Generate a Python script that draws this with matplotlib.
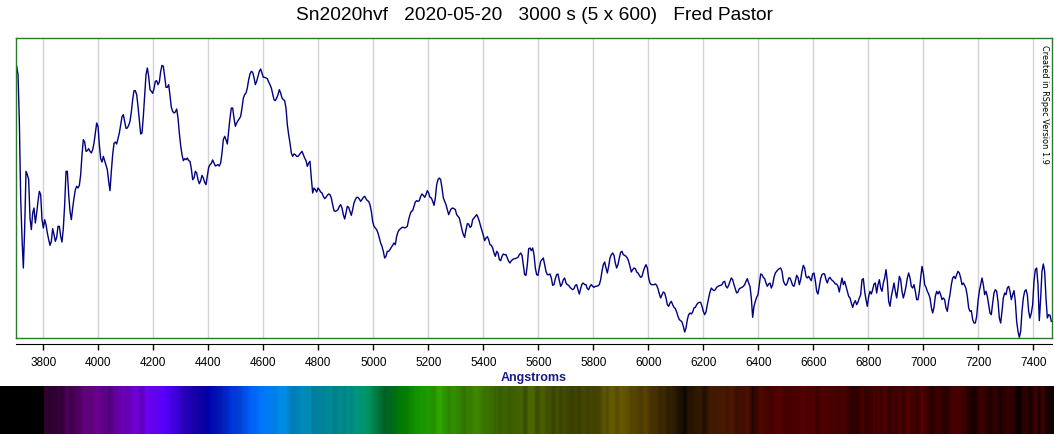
import numpy as np
import matplotlib.pyplot as plt

plt.rcParams['font.family'] = ['Liberation Sans', 'DejaVu Sans']

# Spectre Sn2020hvf : intensite relative (unites arbitraires), echantillonnage lineaire
pas = 4.848  # Angstrom par point

# Debut (Angstrom) de chaque morceau du spectre
debut_a = 3703.2
debut_b = 4459.5
debut_c = 5206.2
debut_d = 5957.7
debut_e = 6704.4

flux_a = [815, 790, 650, 420, 300, 210, 330, 500, 490, 475, 360, 325, 375, 390, 345, 375,
          410, 440, 430, 355, 330, 355, 340, 315, 295, 278, 290, 328, 310, 290, 302, 335,
          335, 305, 288, 330, 400, 500, 500, 430, 380, 355, 390, 420, 445, 455, 450, 458,
          490, 550, 595, 588, 560, 562, 568, 560, 555, 565, 585, 615, 645, 635, 580, 538,
          528, 545, 532, 518, 505, 470, 442, 500, 550, 584, 588, 582, 598, 615, 640, 664,
          670, 650, 629, 630, 638, 650, 678, 715, 742, 742, 730, 695, 655, 612, 615, 665,
          730, 790, 810, 785, 745, 740, 734, 748, 770, 772, 760, 768, 800, 818, 815, 785,
          752, 752, 760, 728, 692, 680, 675, 678, 687, 660, 615, 578, 550, 532, 538, 535,
          540, 532, 530, 508, 475, 480, 500, 495, 475, 463, 472, 488, 480, 467, 460, 485,
          512, 520, 524, 534, 525, 516, 518, 520, 516, 525, 555, 595]

flux_b = [605, 595, 582, 620, 660, 690, 690, 660, 635, 645, 652, 658, 665, 690, 720, 730,
          735, 750, 775, 792, 800, 797, 782, 760, 770, 785, 800, 807, 795, 782, 782, 780,
          778, 768, 760, 750, 732, 715, 712, 720, 730, 745, 735, 720, 715, 712, 690, 640,
          610, 585, 555, 545, 552, 550, 545, 545, 550, 555, 560, 550, 540, 532, 515, 525,
          530, 480, 435, 450, 445, 438, 450, 445, 438, 435, 425, 418, 422, 428, 432, 430,
          420, 400, 382, 380, 382, 385, 395, 400, 390, 370, 357, 375, 395, 392, 380, 368,
          385, 405, 415, 422, 422, 417, 410, 415, 422, 425, 418, 412, 410, 400, 380, 350,
          335, 330, 325, 315, 300, 285, 275, 260, 240, 245, 260, 260, 265, 272, 278, 285,
          280, 305, 318, 325, 328, 332, 332, 330, 332, 335, 355, 370, 380, 382, 395, 408,
          412, 410, 412, 425, 432, 428, 422, 430, 442, 435]

flux_c = [422, 420, 410, 398, 420, 460, 475, 480, 475, 450, 420, 410, 400, 385, 370, 380,
          388, 390, 388, 385, 370, 365, 360, 342, 325, 310, 302, 325, 343, 342, 332, 335,
          355, 360, 365, 370, 362, 350, 335, 322, 308, 292, 300, 304, 295, 280, 278, 270,
          255, 245, 260, 255, 235, 232, 245, 252, 250, 250, 240, 230, 225, 232, 235, 238,
          238, 240, 242, 250, 255, 248, 220, 190, 188, 220, 268, 270, 262, 270, 250, 210,
          190, 188, 210, 230, 235, 240, 220, 200, 190, 190, 192, 180, 158, 160, 178, 190,
          192, 172, 155, 162, 175, 180, 165, 160, 158, 152, 148, 145, 148, 158, 160, 145,
          132, 148, 162, 165, 160, 160, 148, 145, 155, 160, 155, 152, 155, 155, 157, 160,
          175, 200, 220, 228, 210, 195, 215, 240, 250, 255, 248, 225, 210, 220, 240, 257,
          260, 250, 248, 245, 240, 230, 215, 198, 205, 210, 208]

flux_d = [198, 195, 188, 182, 185, 200, 212, 220, 210, 180, 165, 160, 160, 160, 162, 158,
          148, 132, 120, 130, 138, 135, 120, 100, 95, 105, 110, 100, 92, 88, 78, 65,
          55, 52, 48, 35, 18, 30, 55, 70, 75, 72, 78, 90, 92, 100, 105, 107, 107, 95,
          80, 70, 78, 100, 120, 138, 150, 145, 142, 145, 152, 155, 157, 158, 160, 168,
          170, 155, 150, 158, 170, 180, 175, 160, 148, 135, 138, 148, 150, 152, 155, 160,
          170, 178, 165, 155, 120, 62, 95, 110, 122, 130, 162, 192, 190, 182, 178, 165,
          155, 162, 165, 150, 160, 182, 195, 200, 205, 208, 210, 200, 172, 162, 158, 165,
          180, 180, 170, 158, 155, 170, 188, 182, 160, 175, 200, 218, 210, 185, 180, 185,
          178, 172, 192, 195, 172, 140, 132, 155, 178, 190, 193, 192, 175, 165, 178, 182,
          175, 172, 168, 162, 162, 155, 138, 160]

flux_e = [180, 160, 170, 155, 140, 125, 120, 105, 92, 105, 112, 100, 108, 120, 130, 175,
          178, 140, 115, 95, 125, 140, 132, 145, 162, 165, 135, 160, 175, 150, 140, 165,
          180, 205, 170, 110, 95, 125, 145, 165, 140, 120, 150, 185, 175, 140, 120, 135,
          155, 180, 195, 180, 155, 150, 160, 140, 115, 115, 140, 180, 215, 195, 160, 152,
          140, 132, 120, 92, 75, 92, 125, 140, 132, 140, 130, 115, 120, 115, 90, 80,
          110, 130, 160, 180, 185, 178, 190, 200, 195, 180, 160, 165, 158, 148, 125, 90,
          80, 82, 55, 45, 45, 65, 110, 140, 160, 180, 160, 130, 140, 125, 100, 75,
          70, 105, 135, 145, 140, 110, 60, 45, 80, 120, 135, 130, 150, 155, 140, 115,
          130, 142, 110, 50, 20, 2, 20, 80, 120, 140, 145, 130, 80, 60, 75, 100,
          170, 205, 210, 160, 52, 120, 200, 222, 200, 120, 60, 70, 68, 50]

graduations = [3800, 4000, 4200, 4400, 4600, 4800, 5000, 5200, 5400, 5600,
               5800, 6000, 6200, 6400, 6600, 6800, 7000, 7200, 7400]

titre = "Sn2020hvf   2020-05-20   3000 s (5 x 600)   Fred Pastor"

# Assemblage du spectre
debuts = [debut_a, debut_b, debut_c, debut_d, debut_e]
morceaux = [flux_a, flux_b, flux_c, flux_d, flux_e]
lam = np.concatenate([d + pas*np.arange(len(f)) for d, f in zip(debuts, morceaux)])
flux = np.concatenate([np.array(f, dtype=float) for f in morceaux])


def couleur(l):
    """Couleur RGB approchee d'une longueur d'onde en Angstrom (algorithme de Bruton)"""
    l = l/10.0
    r = g = b = 0.0
    if 380 <= l < 440:
        r = -(l-440)/60.0
        b = 1.0
    elif 440 <= l < 490:
        g = (l-440)/50.0
        b = 1.0
    elif 490 <= l < 510:
        g = 1.0
        b = -(l-510)/20.0
    elif 510 <= l < 580:
        r = (l-510)/70.0
        g = 1.0
    elif 580 <= l < 645:
        r = 1.0
        g = -(l-645)/65.0
    elif 645 <= l <= 780:
        r = 1.0
    if 380 <= l < 420:
        f = 0.3 + 0.7*(l-380)/40.0
    elif 420 <= l < 701:
        f = 1.0
    elif 701 <= l <= 780:
        f = 0.3 + 0.7*(780-l)/80.0
    else:
        f = 0.0
    return np.array([r, g, b])*f


W, H = 1054, 435
fig = plt.figure(figsize=(W/100, H/100), dpi=100)

x0 = 3800 - 27.3/0.275
x1 = 7400 + 18.7/0.275

# Graphique principal
ax = fig.add_axes([16/W, 1-339/H, 1036/W, 300/H])
ax.plot(lam, flux, color="#000080", lw=1.0)
ax.set_xlim(x0, x1)
ax.set_ylim(0, 900)
for g in graduations:
    ax.axvline(g, color="#d3d3d3", lw=1.0, zorder=0)
ax.set_xticks([])
ax.set_yticks([])
for s in ax.spines.values():
    s.set_color("#2a7a2a")
    s.set_linewidth(1.0)
ax.text(0.9925, 0.98, "Created in RSpec Version 1.9", transform=ax.transAxes,
        rotation=-90, ha="center", va="top", fontsize=5.9, family=["DejaVu Sans"])

# Axe des longueurs d'onde
axx = fig.add_axes([16/W, 1-345/H, 1036/W, 0.0001])
axx.set_xlim(x0, x1)
axx.set_yticks([])
axx.set_xticks(graduations)
axx.tick_params(axis="x", direction="out", length=4, width=1, labelsize=8.5, pad=5)
for k in ["top", "left", "right"]:
    axx.spines[k].set_visible(False)
axx.spines["bottom"].set_color("black")
axx.patch.set_visible(False)

fig.text(534/W, 1-378.5/H, "Angstroms", ha="center", va="center", fontsize=9,
         fontweight="bold", color="#1a1a8c")
fig.text(534/W, 1-16/H, titre, ha="center", va="center", fontsize=13.8)

# Bande spectrale coloree
xs0 = 3800 - 43.3/0.275
xs1 = 3800 + (W-43.3)/0.275
ls = np.linspace(xs0, xs1, W)
lum = np.interp(ls, lam, flux)/flux.max()
img = np.array([couleur(l)*b for l, b in zip(ls, lum)])
img = np.clip(img, 0, 1)**0.8
img = img[np.newaxis, :, :]
axs = fig.add_axes([0, 0, 1, 48/H])
axs.imshow(img, aspect="auto", extent=[xs0, xs1, 0, 1], interpolation="nearest")
axs.set_xlim(xs0, xs1)
axs.axis("off")

fig.savefig("out.png", dpi=100)
